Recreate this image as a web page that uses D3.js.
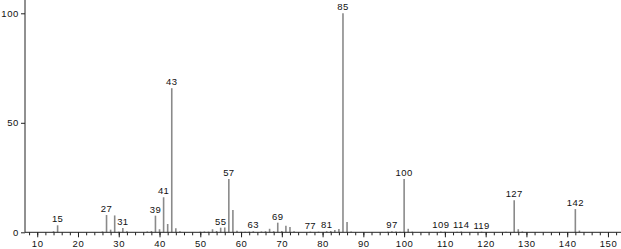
<!DOCTYPE html>
<html>
<head>
<meta charset="utf-8">
<script src="https://cdn.jsdelivr.net/npm/d3@7"></script>
<style>
  body { margin: 0; background: #fff; }
  svg { display: block; }
  text { font-family: "Liberation Sans", sans-serif; font-size: 9.5px; fill: #111; }
</style>
</head>
<body>
<svg id="chart" width="621" height="249"></svg>
<script>
// m/z and relative intensity
let massValues = [14, 15, 26, 27, 28, 29, 30, 31, 32, 37, 38, 39, 40, 41, 42, 43, 44, 45,
  50, 51, 52, 53, 54, 55, 56, 57, 58, 59, 60, 61, 62, 63, 65, 66, 67, 68, 69, 70, 71, 72, 73,
  77, 79, 81, 82, 83, 84, 85, 86, 87, 96, 97, 98, 99, 100, 101, 102,
  109, 110, 113, 114, 119, 125, 127, 128, 129, 142, 143]
let intensityValues = [0.5, 3.2, 0.4, 7.9, 1.2, 7.7, 0.3, 2, 0.5, 0.4, 0.6, 7.6, 1.4, 16, 3.8, 65.8, 1.8, 0.5,
  0.3, 0.4, 0.3, 1.4, 0.6, 2.1, 2.2, 24.3, 10.2, 0.7, 0.3, 0.3, 0.3, 0.5, 0.4, 0.5, 1.6, 0.5, 4.4, 0.6, 3, 2.4, 0.5,
  0.3, 0.3, 0.5, 0.6, 1, 1.5, 100, 4.7, 0.4, 0.3, 0.5, 0.4, 0.3, 24.3, 1.6, 0.3,
  0.4, 0.3, 0.3, 0.4, 0.3, 0.3, 14.6, 1.4, 0.4, 10.6, 0.8]
let labeledPeaks = [15, 27, 31, 39, 41, 43, 55, 57, 63, 69, 77, 81, 85, 97, 100, 109, 114, 119, 127, 142]
let xTickValues = [10, 20, 30, 40, 50, 60, 70, 80, 90, 100, 110, 120, 130, 140, 150]
let yTickValues = [0, 50, 100]

let svg = d3.select("#chart")
let width = 621
let height = 249
let left = 25
let baseY = 232.3

let x = d3.scaleLinear().domain([7, 153.2]).range([left, width])
let y = d3.scaleLinear().domain([0, 100]).range([baseY, 13.3])

let peaks = massValues.map((m, i) => ({ mz: m, value: intensityValues[i] }))

// bars
svg.selectAll("line.peak")
  .data(peaks)
  .enter()
  .append("line")
  .attr("class", "peak")
  .attr("x1", d => x(d.mz))
  .attr("x2", d => x(d.mz))
  .attr("y1", baseY)
  .attr("y2", d => y(d.value))
  .attr("stroke", "#8a8a8a")
  .attr("stroke-width", 1.6)

// peak labels
svg.selectAll("text.peakLabel")
  .data(peaks.filter(d => labeledPeaks.includes(d.mz)))
  .enter()
  .append("text")
  .attr("class", "peakLabel")
  .attr("x", d => x(d.mz))
  .attr("y", d => y(d.value) - 3)
  .attr("text-anchor", "middle")
  .attr("letter-spacing", "0.4px")
  .text(d => d.mz)

// x axis: minor ticks every 2, labelled ones every 10
let xAxis = d3.axisBottom(x)
  .tickValues(d3.range(8, 153, 2))
  .tickSize(3)
  .tickFormat("")
svg.append("g")
  .attr("transform", `translate(0,${baseY})`)
  .call(xAxis)
  .call(g => g.select(".domain").remove())
  .call(g => g.selectAll("line").attr("stroke", "#222"))

let xMajor = d3.axisBottom(x)
  .tickValues(xTickValues)
  .tickSize(5)
  .tickPadding(2)
svg.append("g")
  .attr("transform", `translate(0,${baseY})`)
  .call(xMajor)
  .call(g => g.select(".domain").remove())
  .call(g => g.selectAll("line").attr("stroke", "#222"))
  .call(g => g.selectAll("text")
    .attr("dy", "0.8em")
    .attr("letter-spacing", "0.6px")
    .style("font-size", "9.5px")
    .style("font-family", "Liberation Sans, sans-serif"))

svg.append("line")
  .attr("x1", left).attr("x2", width)
  .attr("y1", baseY).attr("y2", baseY)
  .attr("stroke", "#222")

// y axis
let yAxis = d3.axisLeft(y)
  .tickValues(yTickValues)
  .tickSize(4)
  .tickPadding(2)
svg.append("g")
  .attr("transform", `translate(${left},0)`)
  .call(yAxis)
  .call(g => g.select(".domain").remove())
  .call(g => g.selectAll("line").attr("stroke", "#222"))
  .call(g => g.selectAll("text")
    .attr("letter-spacing", "0.6px")
    .style("font-size", "9.5px")
    .style("font-family", "Liberation Sans, sans-serif"))

svg.append("line")
  .attr("x1", left).attr("x2", left)
  .attr("y1", 0).attr("y2", baseY)
  .attr("stroke", "#222")
</script>
</body>
</html>
